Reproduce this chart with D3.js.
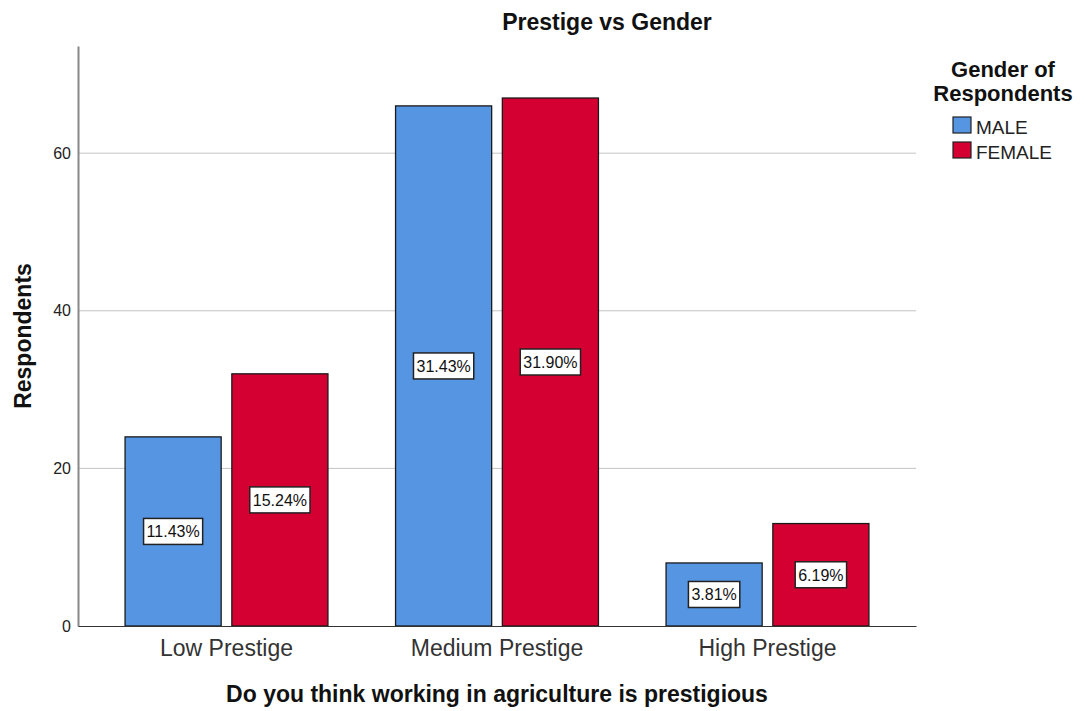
<!DOCTYPE html>
<html>
<head>
<meta charset="utf-8">
<script src="https://cdn.jsdelivr.net/npm/d3@7"></script>
<style>
  body { margin: 0; background: #fff; }
  text { font-family: "Liberation Sans", Arial, sans-serif; }
</style>
</head>
<body>
<div class="canva"></div>
<script>
const categories = ["Low Prestige", "Medium Prestige", "High Prestige"];
const genders = ["MALE", "FEMALE"];
const maleCounts = [24, 66, 8];
const femaleCounts = [32, 67, 13];
const malePct = ["11.43%", "31.43%", "3.81%"];
const femalePct = ["15.24%", "31.90%", "6.19%"];
const yTicks = [0, 20, 40, 60];
const colors = { MALE: "#5595e2", FEMALE: "#d50032" };

const svg = d3.select(".canva").append("svg")
    .attr("width", 1085)
    .attr("height", 711);

const plotLeft = 78, plotRight = 916, plotTop = 46, plotBottom = 626;

const x = d3.scaleBand()
    .domain(categories)
    .range([plotLeft, plotRight])
    .paddingInner(0.25)
    .paddingOuter(0.174);

const xSub = d3.scaleBand()
    .domain(genders)
    .range([0, x.bandwidth()])
    .paddingInner(0.1);

const y = d3.scaleLinear()
    .domain([0, 73.6])
    .range([plotBottom, plotTop]);

// gridlines
svg.append("g")
    .selectAll("line")
    .data(yTicks.filter(d => d > 0))
    .enter()
    .append("line")
    .attr("x1", plotLeft)
    .attr("x2", plotRight)
    .attr("y1", d => y(d))
    .attr("y2", d => y(d))
    .attr("stroke", "#c4c4c4")
    .attr("stroke-width", 1);

// y axis
const yAxis = d3.axisLeft(y).tickValues(yTicks).tickSize(0).tickPadding(7);
const yAxisGroup = svg.append("g")
    .attr("transform", `translate(${plotLeft}, 0)`)
    .call(yAxis);
yAxisGroup.select(".domain").attr("stroke", "#888").attr("stroke-width", 2);
yAxisGroup.selectAll("text")
    .style("font-size", "16px")
    .attr("fill", "#222")
    .style("font-family", "Liberation Sans, Arial, sans-serif");

const data = [];
categories.forEach((c, i) => {
    data.push({ cat: c, gender: "MALE", value: maleCounts[i], pct: malePct[i] });
    data.push({ cat: c, gender: "FEMALE", value: femaleCounts[i], pct: femalePct[i] });
});

// bars
const barGroup = svg.append("g");
barGroup.selectAll("rect")
    .data(data)
    .enter()
    .append("rect")
    .attr("x", d => x(d.cat) + xSub(d.gender))
    .attr("y", d => y(d.value))
    .attr("width", xSub.bandwidth())
    .attr("height", d => y(0) - y(d.value))
    .attr("fill", d => colors[d.gender])
    .attr("stroke", "#1a1a1a")
    .attr("stroke-width", 1.3);

// x axis baseline
const xAxis = d3.axisBottom(x).tickSize(0).tickPadding(14);
const xAxisGroup = svg.append("g")
    .attr("transform", `translate(0, ${plotBottom})`)
    .call(xAxis);
xAxisGroup.select(".domain").attr("stroke", "#333").attr("stroke-width", 1.2);
xAxisGroup.selectAll("text")
    .style("font-size", "23px")
    .attr("fill", "#333")
    .style("font-family", "Liberation Sans, Arial, sans-serif");

// percentage labels
const labels = svg.append("g").selectAll("g")
    .data(data)
    .enter()
    .append("g")
    .attr("transform", d => `translate(${x(d.cat) + xSub(d.gender) + xSub.bandwidth() / 2}, ${(y(d.value) + y(0)) / 2})`);

labels.append("rect")
    .attr("fill", "#fff")
    .attr("stroke", "#222")
    .attr("stroke-width", 1.5);

labels.append("text")
    .attr("text-anchor", "middle")
    .attr("dy", "0.36em")
    .attr("fill", "#111")
    .style("font-size", "16px")
    .text(d => d.pct)
    .each(function() {
        const w = this.getComputedTextLength() + 6;
        d3.select(this.parentNode).select("rect")
            .attr("x", -w / 2)
            .attr("y", -13)
            .attr("width", w)
            .attr("height", 26);
    });

// title
svg.append("text")
    .attr("x", 607)
    .attr("y", 30)
    .attr("text-anchor", "middle")
    .attr("fill", "#111")
    .style("font-size", "23px")
    .style("font-weight", "bold")
    .text("Prestige vs Gender");

// axis titles
svg.append("text")
    .attr("x", 497)
    .attr("y", 702)
    .attr("text-anchor", "middle")
    .attr("fill", "#111")
    .style("font-size", "23px")
    .style("font-weight", "bold")
    .text("Do you think working in agriculture is prestigious");

svg.append("text")
    .attr("transform", "rotate(-90)")
    .attr("x", -336)
    .attr("y", 31)
    .attr("text-anchor", "middle")
    .attr("fill", "#111")
    .style("font-size", "23px")
    .style("font-weight", "bold")
    .text("Respondents");

// legend
const legend = svg.append("g");
legend.selectAll("text.title")
    .data(["Gender of", "Respondents"])
    .enter()
    .append("text")
    .attr("class", "title")
    .attr("x", 1003)
    .attr("y", (d, i) => 77 + i * 24)
    .attr("text-anchor", "middle")
    .attr("fill", "#111")
    .style("font-size", "22px")
    .style("font-weight", "bold")
    .text(d => d);

const legendRow = legend.selectAll("g.row")
    .data(genders)
    .enter()
    .append("g")
    .attr("class", "row")
    .attr("transform", (d, i) => `translate(953, ${117 + i * 25})`);

legendRow.append("rect")
    .attr("width", 18)
    .attr("height", 16)
    .attr("fill", d => colors[d])
    .attr("stroke", "#222")
    .attr("stroke-width", 1.2);

legendRow.append("text")
    .attr("x", 23)
    .attr("y", 17)
    .attr("fill", "#222")
    .style("font-size", "19px")
    .text(d => d);
</script>
</body>
</html>
